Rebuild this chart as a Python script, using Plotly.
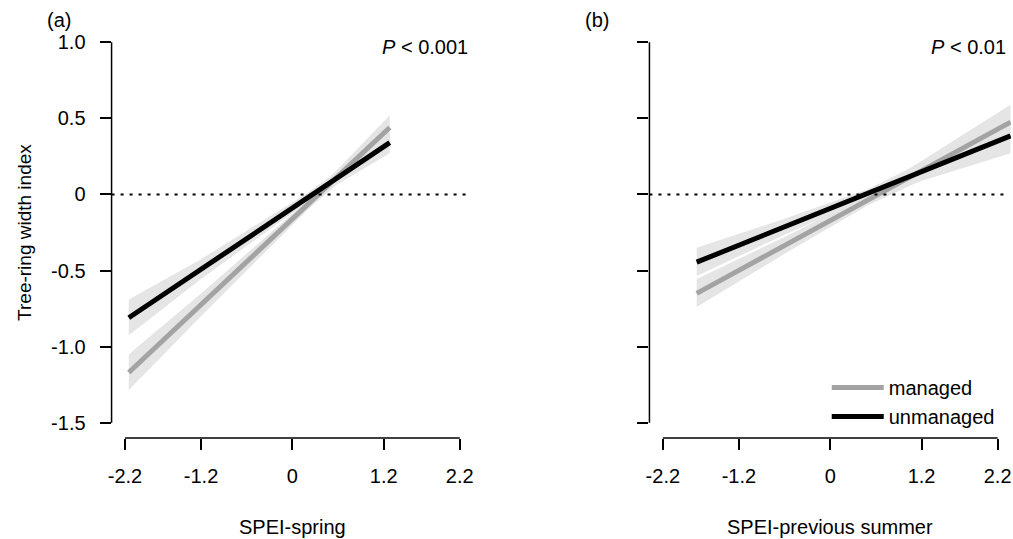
import plotly.graph_objects as go

# ---- data ----
ytick_vals = [-1.5, -1.0, -0.5, 0, 0.5, 1.0]
ytick_text = ["-1.5", "-1.0", "-0.5", "0", "0.5", "1.0"]
xtick_vals = [-2.2, -1.2, 0, 1.2, 2.2]
xtick_text = ["-2.2", "-1.2", "0", "1.2", "2.2"]

# panel (a): SPEI-spring
spring_x = [-2.15, -1.2, 0.2, 1.28]
spring_managed = [-1.17, -0.725, -0.07, 0.44]
spring_managed_lo = [-1.285, -0.80, -0.10, 0.365]
spring_managed_hi = [-1.05, -0.65, -0.04, 0.52]
spring_unmanaged = [-0.81, -0.49, -0.02, 0.34]
spring_unmanaged_lo = [-0.925, -0.555, -0.05, 0.27]
spring_unmanaged_hi = [-0.69, -0.425, 0.01, 0.41]

# panel (b): SPEI-previous summer
summer_x = [-1.755, -0.6, 0.5, 2.37]
summer_managed = [-0.65, -0.335, -0.035, 0.475]
summer_managed_lo = [-0.74, -0.39, -0.07, 0.36]
summer_managed_hi = [-0.555, -0.28, 0.0, 0.59]
summer_unmanaged = [-0.445, -0.213, 0.008, 0.385]
summer_unmanaged_lo = [-0.535, -0.265, -0.02, 0.27]
summer_unmanaged_hi = [-0.35, -0.16, 0.035, 0.50]

panel_labels = ["(a)", "(b)"]
p_labels = ["<i>P</i> &lt; 0.001", "<i>P</i> &lt; 0.01"]
x_titles = ["SPEI-spring", "SPEI-previous summer"]
y_title = "Tree-ring width index"
series_names = ["managed", "unmanaged"]

# ---- styling ----
W, H = 1013, 539
FONT = "Liberation Sans, Arial, sans-serif"
FS = 20
BAND = "#e5e5e5"
GREY = "#a3a3a3"
BLACK = "#000000"
XR = [-2.376, 2.376]
YR = [-1.6, 1.1]

fig = go.Figure()

panels = [
    ("x", "y", spring_x, spring_managed, spring_managed_lo, spring_managed_hi,
     spring_unmanaged, spring_unmanaged_lo, spring_unmanaged_hi),
    ("x2", "y2", summer_x, summer_managed, summer_managed_lo, summer_managed_hi,
     summer_unmanaged, summer_unmanaged_lo, summer_unmanaged_hi),
]

for i, (xa, ya, xs, m, mlo, mhi, u, ulo, uhi) in enumerate(panels):
    for lo, hi in [(mlo, mhi), (ulo, uhi)]:
        fig.add_trace(go.Scatter(
            x=xs + xs[::-1], y=hi + lo[::-1], xaxis=xa, yaxis=ya,
            fill="toself", fillcolor=BAND, line=dict(width=0),
            mode="lines", showlegend=False, hoverinfo="skip"))
    fig.add_trace(go.Scatter(
        x=xs, y=m, xaxis=xa, yaxis=ya, mode="lines",
        line=dict(color=GREY, width=5), name=series_names[0],
        showlegend=(i == 1), legendrank=1))
    fig.add_trace(go.Scatter(
        x=xs, y=u, xaxis=xa, yaxis=ya, mode="lines",
        line=dict(color=BLACK, width=5), name=series_names[1],
        showlegend=(i == 1), legendrank=2))

xdom1 = [108 / W, 471 / W]
xdom2 = [648 / W, 1011 / W]
ydom = [1 - 438 / H, 1 - 27 / H]

axis_common = dict(showgrid=False, zeroline=False, showline=False,
                   ticks="outside", ticklen=11, tickwidth=1.5, tickcolor="black",
                   tickfont=dict(family=FONT, size=FS, color="black"))

fig.update_layout(
    width=W, height=H,
    margin=dict(l=0, r=0, t=0, b=0),
    paper_bgcolor="white", plot_bgcolor="white",
    font=dict(family=FONT, size=FS, color="black"),
    xaxis=dict(domain=xdom1, range=XR, tickvals=xtick_vals, ticktext=xtick_text,
               anchor="y", ticklabelstandoff=9, **axis_common),
    yaxis=dict(domain=ydom, range=YR, tickvals=ytick_vals, ticktext=ytick_text,
               anchor="x", ticklabelstandoff=10, **axis_common),
    xaxis2=dict(domain=xdom2, range=XR, tickvals=xtick_vals, ticktext=xtick_text,
                anchor="y2", ticklabelstandoff=9, **axis_common),
    yaxis2=dict(domain=ydom, range=YR, tickvals=ytick_vals, ticktext=ytick_text,
                anchor="x2", showticklabels=False, **axis_common),
    showlegend=True,
    legend=dict(x=826 / W, y=1 - 368 / H, xanchor="left", yanchor="top",
                bgcolor="rgba(0,0,0,0)", font=dict(family=FONT, size=FS),
                tracegroupgap=0, itemwidth=52, traceorder="normal"),
)

shapes = []
annotations = []
for i, (xa, ya) in enumerate([("x", "y"), ("x2", "y2")]):
    # R-style axis lines spanning the tick range
    shapes.append(dict(type="line", xref=f"{xa} domain", yref=ya,
                       x0=0, x1=0, y0=min(ytick_vals), y1=max(ytick_vals),
                       line=dict(color="black", width=1.5)))
    shapes.append(dict(type="line", xref=xa, yref=f"{ya} domain",
                       x0=min(xtick_vals), x1=max(xtick_vals), y0=0, y1=0,
                       line=dict(color="black", width=1.5)))
    # dotted zero line
    shapes.append(dict(type="line", xref=f"{xa} domain", yref=ya,
                       x0=0, x1=0.985, y0=0, y1=0,
                       line=dict(color="black", width=2, dash="3px,6px")))
    dom = xdom1 if i == 0 else xdom2
    annotations.append(dict(text=panel_labels[i], xref="paper", yref="paper",
                            x=(dom[0] * W - 67) / W, y=1 - 20 / H,
                            xanchor="left", yanchor="middle", showarrow=False,
                            font=dict(family=FONT, size=FS)))
    annotations.append(dict(text=p_labels[i], xref="paper", yref="paper",
                            x=(dom[1] * W - 3) / W, y=1 - 47 / H,
                            xanchor="right", yanchor="middle", showarrow=False,
                            font=dict(family=FONT, size=FS)))
    annotations.append(dict(text=x_titles[i], xref=xa, yref="paper",
                            x=0, y=1 - 527 / H, xanchor="center", yanchor="middle",
                            showarrow=False, font=dict(family=FONT, size=FS)))

annotations.append(dict(text=y_title, xref="paper", yref="paper",
                        x=21 / W, y=1 - 232 / H, textangle=-90,
                        xanchor="center", yanchor="middle", showarrow=False,
                        font=dict(family=FONT, size=19)))

fig.update_layout(shapes=shapes, annotations=annotations)
fig.write_html(
    "out.html",
    config={"displayModeBar": False},
    post_script="document.body.style.margin='0';document.body.style.overflow='hidden';",
)
